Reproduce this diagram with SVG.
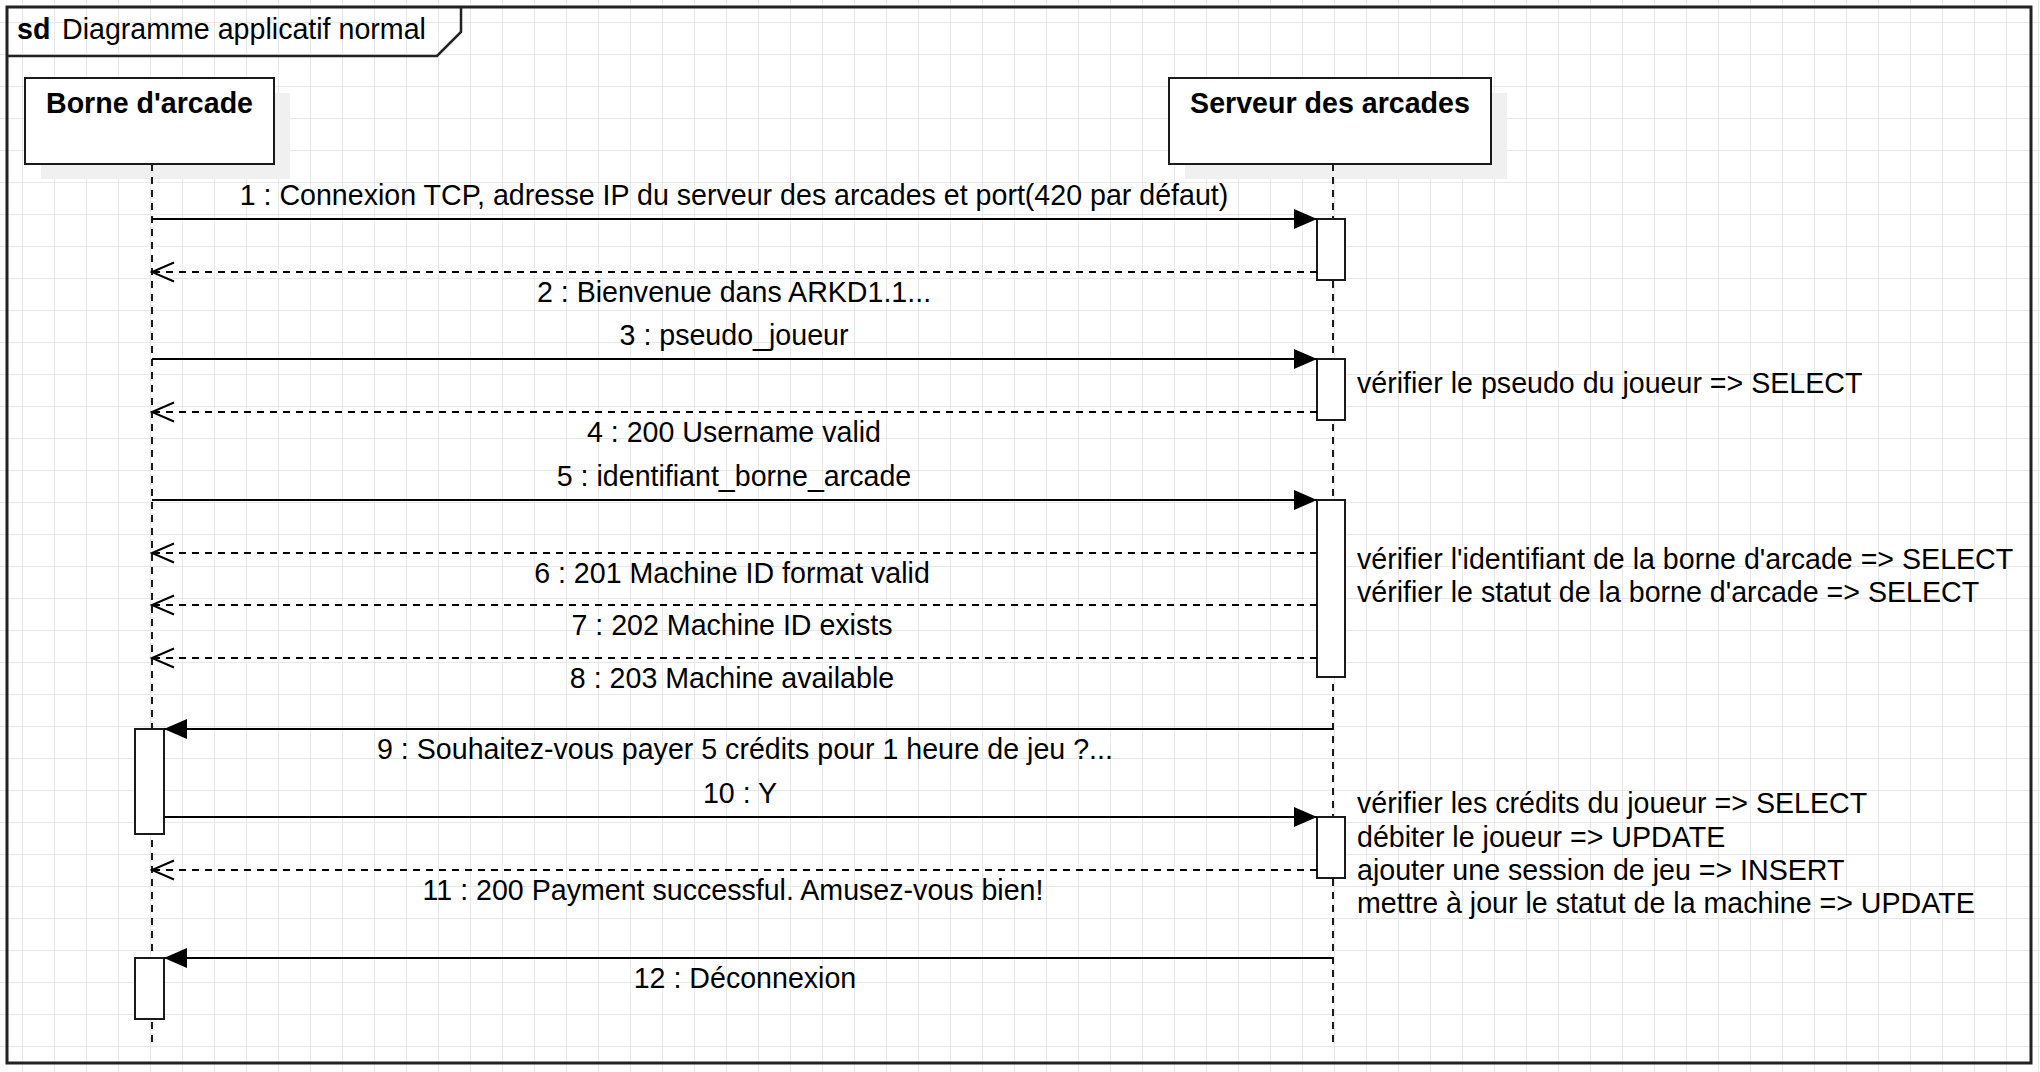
<svg xmlns="http://www.w3.org/2000/svg" width="2040" height="1072" viewBox="0 0 2040 1072">
<defs>
<style>
text{font-family:"Liberation Sans",Arial,sans-serif;font-size:28.6px;fill:#000}
.b{font-weight:bold}
.m{text-anchor:middle}
.box{fill:#fff;stroke:#1a1a1a;stroke-width:2}
.shadow{fill:#f0f0f0;stroke:none}
.act{fill:#fff;stroke:#1a1a1a;stroke-width:2}
.life{stroke:#1a1a1a;stroke-width:2;stroke-dasharray:7 6;fill:none}
.call{stroke:#000;stroke-width:2;fill:none;marker-end:url(#filled)}
.ret{stroke:#000;stroke-width:2;fill:none;stroke-dasharray:7 6;marker-end:url(#open)}
</style>
<pattern id="grid" x="22" y="22" width="32" height="32" patternUnits="userSpaceOnUse">
<path d="M0.5,0 V32 M0,0.5 H32" stroke="#e8e8e8" stroke-width="1" fill="none"/>
</pattern>
<marker id="filled" markerUnits="userSpaceOnUse" markerWidth="24" markerHeight="22" refX="23" refY="10" orient="auto" overflow="visible">
<path d="M0,0 L23,10 L0,20 Z" fill="#000" stroke="none"/>
</marker>
<marker id="open" markerUnits="userSpaceOnUse" markerWidth="24" markerHeight="22" refX="22" refY="10" orient="auto" overflow="visible">
<path d="M0,0.5 L22,10 L0,19.5" fill="none" stroke="#000" stroke-width="2" stroke-dasharray="none"/>
</marker>
</defs>
<rect x="0" y="0" width="2040" height="1072" fill="#fff"/>
<rect x="0" y="0" width="2040" height="1072" fill="url(#grid)"/>

<g id="frame">
<rect x="7" y="7" width="2024" height="1056" fill="none" stroke="#222" stroke-width="3"/>
<path d="M7,56 H437 L461,32 V7" fill="none" stroke="#222" stroke-width="2.5"/>
<text x="17" y="39" class="b">sd</text>
<text x="62" y="39">Diagramme applicatif normal</text>
</g>

<g id="borne">
<rect class="shadow" x="41" y="93" width="249" height="86"/>
<rect class="box" x="25" y="78" width="249" height="86"/>
<text x="149.5" y="113" class="b m">Borne d'arcade</text>
<line class="life" x1="152" y1="164" x2="152" y2="1043"/>
</g>

<g id="serveur">
<rect class="shadow" x="1185" y="93" width="322" height="86"/>
<rect class="box" x="1169" y="78" width="322" height="86"/>
<text x="1330" y="113" class="b m">Serveur des arcades</text>
<line class="life" x1="1333" y1="164" x2="1333" y2="1043"/>
</g>

<g id="activations">
<rect class="act" x="1317" y="219" width="28" height="61"/>
<rect class="act" x="1317" y="359" width="28" height="61"/>
<rect class="act" x="1317" y="500" width="28" height="177"/>
<rect class="act" x="1317" y="817" width="28" height="61"/>
<rect class="act" x="135" y="729" width="29" height="105"/>
<rect class="act" x="135" y="958" width="29" height="61"/>
</g>

<g id="connectors">
<line class="call" x1="152" y1="219" x2="1317" y2="219"/>
<line class="ret" x1="1317" y1="272" x2="152" y2="272"/>
<line class="call" x1="152" y1="359" x2="1317" y2="359"/>
<line class="ret" x1="1317" y1="412" x2="152" y2="412"/>
<line class="call" x1="152" y1="500" x2="1317" y2="500"/>
<line class="ret" x1="1317" y1="553" x2="152" y2="553"/>
<line class="ret" x1="1317" y1="605" x2="152" y2="605"/>
<line class="ret" x1="1317" y1="658" x2="152" y2="658"/>
<line class="call" x1="1333" y1="729" x2="164" y2="729"/>
<line class="call" x1="164" y1="817" x2="1317" y2="817"/>
<line class="ret" x1="1317" y1="870" x2="152" y2="870"/>
<line class="call" x1="1333" y1="958" x2="164" y2="958"/>
</g>

<g id="labels">
<text x="734" y="205" class="m">1 : Connexion TCP, adresse IP du serveur des arcades et port(420 par défaut)</text>
<text x="734" y="302" class="m">2 : Bienvenue dans ARKD1.1...</text>
<text x="734" y="345" class="m">3 : pseudo_joueur</text>
<text x="734" y="442" class="m">4 : 200 Username valid</text>
<text x="734" y="486" class="m">5 : identifiant_borne_arcade</text>
<text x="732" y="583" class="m">6 : 201 Machine ID format valid</text>
<text x="732" y="635" class="m">7 : 202 Machine ID exists</text>
<text x="732" y="688" class="m">8 : 203 Machine available</text>
<text x="745" y="759" class="m">9 : Souhaitez-vous payer 5 crédits pour 1 heure de jeu ?...</text>
<text x="740" y="803" class="m">10 : Y</text>
<text x="733" y="900" class="m">11 : 200 Payment successful. Amusez-vous bien!</text>
<text x="745" y="988" class="m">12 : Déconnexion</text>
</g>

<g id="notes">
<text x="1357" y="393">vérifier le pseudo du joueur =&gt; SELECT</text>
<text x="1357" y="569">vérifier l'identifiant de la borne d'arcade =&gt; SELECT</text>
<text x="1357" y="602">vérifier le statut de la borne d'arcade =&gt; SELECT</text>
<text x="1357" y="813">vérifier les crédits du joueur =&gt; SELECT</text>
<text x="1357" y="847">débiter le joueur =&gt; UPDATE</text>
<text x="1357" y="880">ajouter une session de jeu =&gt; INSERT</text>
<text x="1357" y="913">mettre à jour le statut de la machine =&gt; UPDATE</text>
</g>
</svg>
